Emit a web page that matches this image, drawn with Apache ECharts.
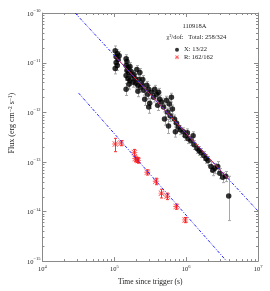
<!DOCTYPE html>
<html><head><meta charset="utf-8">
<script src="https://cdn.jsdelivr.net/npm/echarts@6/dist/echarts.min.js"></script>
<style>html,body{margin:0;padding:0;background:#fff}#c{width:270px;height:291px}</style>
</head><body><div id="c"></div>
<script>
// ---- X-ray (X) data: time (s), flux (erg cm^-2 s^-1), fractional errors ----
const xTime = [1.03e5,1.10e5,1.06e5,1.13e5,1.06e5,1.10e5,1.03e5,1.17e5,
1.46e5,1.50e5,1.46e5,1.55e5,1.50e5,1.60e5,1.46e5,1.55e5,1.65e5,1.71e5,1.76e5,1.65e5,1.82e5,1.60e5,1.46e5,1.88e5,1.94e5,2.00e5,2.06e5,2.13e5,2.20e5,2.27e5,2.34e5,2.13e5,2.42e5,2.49e5,2.58e5,2.65e5,
2.83e5,3.01e5,2.92e5,3.11e5,3.01e5,3.31e5,3.53e5,3.65e5,3.88e5,4.14e5,4.27e5,4.01e5,4.55e5,4.84e5,5.00e5,5.32e5,5.50e5,5.68e5,5.85e5,6.24e5,6.44e5,6.04e5,
6.85e5,7.31e5,7.78e5,7.08e5,8.30e5,9.12e5,9.72e5,1.04e6,1.07e6,1.17e6,1.25e6,1.29e6,1.42e6,1.51e6,1.61e6,
1.77e6,1.89e6,2.01e6,2.21e6,2.35e6,2.51e6,2.75e6,2.94e6,3.23e6,3.55e6,3.91e6];
const xFlux = [1.73e-11,1.51e-11,1.32e-11,1.15e-11,1.00e-11,8.71e-12,7.59e-12,1.38e-11,
1.20e-11,1.05e-11,8.71e-12,7.94e-12,6.93e-12,6.32e-12,5.51e-12,4.80e-12,8.32e-12,6.62e-12,5.51e-12,4.38e-12,4.00e-12,3.65e-12,2.90e-12,5.77e-12,4.80e-12,3.82e-12,7.26e-12,3.48e-12,4.58e-12,6.32e-12,3.18e-12,2.64e-12,3.65e-12,4.58e-12,2.77e-12,1.83e-12,
3.48e-12,2.90e-12,2.31e-12,1.52e-12,1.27e-12,2.52e-12,2.01e-12,2.90e-12,2.31e-12,2.52e-12,1.83e-12,1.39e-12,1.60e-12,1.27e-12,7.33e-13,1.75e-12,1.01e-12,5.31e-13,1.46e-12,2.01e-12,1.16e-12,8.39e-13,
7.33e-13,6.10e-13,5.07e-13,4.04e-13,4.42e-13,4.04e-13,3.36e-13,3.85e-13,2.92e-13,2.67e-13,3.36e-13,2.22e-13,1.85e-13,1.69e-13,1.54e-13,
1.34e-13,1.17e-13,1.07e-13,8.09e-14,6.75e-14,7.40e-14,8.09e-14,5.87e-14,4.89e-14,5.12e-14,2.05e-14];
const xErrUp = [0.25,0.2,0.2,0.2,0.2,0.2,0.25,0.2,
0.2,0.2,0.2,0.2,0.2,0.2,0.2,0.2,0.2,0.2,0.2,0.2,0.2,0.2,0.3,0.2,0.2,0.2,0.2,0.2,0.2,0.2,0.2,0.25,0.2,0.2,0.2,0.3,
0.2,0.2,0.2,0.25,0.3,0.2,0.2,0.2,0.2,0.2,0.2,0.25,0.2,0.2,0.3,0.2,0.2,0.35,0.2,0.2,0.2,0.25,
0.2,0.2,0.2,0.25,0.2,0.2,0.2,0.2,0.2,0.2,0.2,0.2,0.2,0.2,0.2,
0.2,0.2,0.2,0.25,0.25,0.25,0.25,0.25,0.25,0.25,1.5];
const xErrDn = [0.22,0.2,0.2,0.2,0.2,0.2,0.22,0.2,
0.2,0.2,0.2,0.2,0.2,0.2,0.2,0.2,0.2,0.2,0.2,0.2,0.2,0.2,0.25,0.2,0.2,0.2,0.2,0.2,0.2,0.2,0.2,0.22,0.2,0.2,0.2,0.25,
0.2,0.2,0.2,0.22,0.25,0.2,0.2,0.2,0.2,0.2,0.2,0.22,0.2,0.2,0.25,0.2,0.2,0.3,0.2,0.2,0.2,0.22,
0.2,0.2,0.2,0.22,0.2,0.2,0.2,0.2,0.2,0.2,0.2,0.2,0.2,0.2,0.2,
0.2,0.2,0.2,0.22,0.22,0.22,0.22,0.22,0.22,0.22,0.68];

// ---- Optical R data ----
const rTime = [1.03e5,1.24e5,1.90e5,1.96e5,2.07e5,2.14e5,2.88e5,3.78e5,4.53e5,5.42e5,7.28e5,9.68e5];
const rFlux = [2.29e-13,2.40e-13,1.55e-13,1.17e-13,1.10e-13,1.07e-13,6.17e-14,4.07e-14,2.34e-14,2.04e-14,1.26e-14,6.76e-15];
const rErr = [0.3,0.12,0.15,0.12,0.12,0.12,0.12,0.15,0.2,0.15,0.12,0.12];

// ---- Fitted power laws (endpoints) ----
const fitXTime = [2.85e4, 1.0e7];
const fitXFlux = [1.0e-10, 1.02e-14];
const fitXDataTime = [1.03e5, 3.91e6];
const fitXDataFlux = [1.33e-11, 4.46e-14];
const fitRTime = [3.19e4, 3.65e6];
const fitRFlux = [2.43e-12, 1.0e-15];

// ---- Ticks ----
const xTickValues = [1e4, 1e5, 1e6, 1e7];
const xTickExps = ['4', '5', '6', '7'];
const yTickValues = [1e-15, 1e-14, 1e-13, 1e-12, 1e-11, 1e-10];
const yTickExps = ['\u221215', '\u221214', '\u221213', '\u221212', '\u221211', '\u221210'];
const xMinorTicks = [2e4,3e4,4e4,5e4,6e4,7e4,8e4,9e4,2e5,3e5,4e5,5e5,6e5,7e5,8e5,9e5,2e6,3e6,4e6,5e6,6e6,7e6,8e6,9e6];
const yMinorTicks = [2e-15,3e-15,4e-15,5e-15,6e-15,7e-15,8e-15,9e-15,
2e-14,3e-14,4e-14,5e-14,6e-14,7e-14,8e-14,9e-14,
2e-13,3e-13,4e-13,5e-13,6e-13,7e-13,8e-13,9e-13,
2e-12,3e-12,4e-12,5e-12,6e-12,7e-12,8e-12,9e-12,
2e-11,3e-11,4e-11,5e-11,6e-11,7e-11,8e-11,9e-11];

// ---- Texts ----
const grbName = '110918A';
const chiLabel = '\u03c7\u00b2/dof:';
const totalLabel = 'Total: 258/324';
const legendNames = ['X', 'R'];
const legendTexts = ['X: 13/22', 'R: 162/162'];
const xTitle = 'Time since trigger (s)';
const yTitle = 'Flux (erg cm{s|\u22122} s{s|\u22121})';

const serif = "'Liberation Serif','DejaVu Serif',serif";
const axisColor = '#8a8a8a';
const textColor = '#222';
const X_MIN = 1e4, X_MAX = 1e7, Y_MIN = 1e-15, Y_MAX = 1e-10;
const starPath = 'path://M4.3 0L5.7 0L5.7 10L4.3 10Z M0 4.3L10 4.3L10 5.7L0 5.7Z M1 0L10 9L9 10L0 1Z M9 0L10 1L1 10L0 9Z';

const supRich = {
  b: {fontFamily: serif, fontSize: 6.5, color: textColor, lineHeight: 9, verticalAlign: 'bottom'},
  s: {fontFamily: serif, fontSize: 4.5, color: textColor, lineHeight: 5, verticalAlign: 'top'}
};
function fmt(values, exps) {
  return function (v) {
    const i = values.findIndex(t => Math.abs(Math.log10(t) - Math.log10(v)) < 1e-6);
    return i < 0 ? '' : '{b|10}{s|' + exps[i] + '}';
  };
}

function errSeries(times, flux, up, dn, color, cap, z) {
  return {
    type: 'custom', silent: true, z: z, animation: false,
    data: times.map((t, i) => [t, flux[i] * (1 - dn[i]), flux[i] * (1 + up[i])]),
    encode: {x: 0, y: [1, 2]},
    renderItem: function (p, api) {
      const t = api.value(0);
      const a = api.coord([t, api.value(1)]);
      const b = api.coord([t, api.value(2)]);
      const x = Math.round(a[0]) + 0.5;
      const st = {stroke: color, lineWidth: 1};
      return {type: 'group', children: [
        {type: 'line', shape: {x1: x, y1: a[1], x2: x, y2: b[1]}, style: st},
        {type: 'line', shape: {x1: x - cap, y1: a[1], x2: x + cap, y2: a[1]}, style: st},
        {type: 'line', shape: {x1: x - cap, y1: b[1], x2: x + cap, y2: b[1]}, style: st}
      ]};
    }
  };
}

function tickSeries(vals, dir, len) {
  return {
    type: 'custom', silent: true, clip: false, z: 6, animation: false,
    data: vals.map(v => dir === 'x' ? [v, Y_MIN] : [X_MIN, v]),
    renderItem: function (p, api) {
      const st = {stroke: axisColor, lineWidth: 1};
      if (dir === 'x') {
        const v = api.value(0);
        const a = api.coord([v, Y_MIN]), b = api.coord([v, Y_MAX]);
        const x = Math.round(a[0]) + 0.5;
        return {type: 'group', children: [
          {type: 'line', shape: {x1: x, y1: a[1], x2: x, y2: a[1] - len}, style: st},
          {type: 'line', shape: {x1: x, y1: b[1], x2: x, y2: b[1] + len}, style: st}
        ]};
      } else {
        const v = api.value(1);
        const a = api.coord([X_MIN, v]), b = api.coord([X_MAX, v]);
        const y = Math.round(a[1]) + 0.5;
        return {type: 'group', children: [
          {type: 'line', shape: {x1: a[0], y1: y, x2: a[0] + len, y2: y}, style: st},
          {type: 'line', shape: {x1: b[0], y1: y, x2: b[0] - len, y2: y}, style: st}
        ]};
      }
    }
  };
}

const chart = echarts.init(document.getElementById('c'), null, {renderer: 'canvas'});
const baseAxis = {
  type: 'log', logBase: 10,
  axisLine: {show: true, lineStyle: {color: axisColor, width: 1}},
  axisTick: {show: false},
  splitLine: {show: false},
  minorTick: {show: false},
  minorSplitLine: {show: false}
};
chart.setOption({
  animation: false,
  backgroundColor: '#fff',
  grid: {left: 39, right: 12, top: 13, bottom: 27, containLabel: false},
  xAxis: [
    Object.assign({}, baseAxis, {
      position: 'bottom', min: X_MIN, max: X_MAX,
      axisLabel: {show: true, margin: 3, formatter: fmt(xTickValues, xTickExps), rich: supRich},
      name: xTitle, nameLocation: 'middle', nameGap: 11,
      nameTextStyle: {fontFamily: serif, fontSize: 7.5, color: textColor}
    }),
    Object.assign({}, baseAxis, {position: 'top', min: X_MIN, max: X_MAX, axisLabel: {show: false}})
  ],
  yAxis: [
    Object.assign({}, baseAxis, {
      position: 'left', min: Y_MIN, max: Y_MAX,
      axisLabel: {show: true, margin: 2, formatter: fmt(yTickValues, yTickExps), rich: supRich},
      name: yTitle, nameLocation: 'middle', nameGap: 22, nameRotate: 90,
      nameTextStyle: {fontFamily: serif, fontSize: 8, color: textColor, padding: [0, 0, 0, 28],
        rich: {s: {fontFamily: serif, fontSize: 5.5, color: textColor, verticalAlign: 'top', lineHeight: 5}}}
    }),
    Object.assign({}, baseAxis, {position: 'right', min: Y_MIN, max: Y_MAX, axisLabel: {show: false}})
  ],
  legend: {
    show: true, orient: 'vertical', left: 175, top: 46, padding: 0,
    itemWidth: 4, itemHeight: 4, itemGap: 0, selectedMode: false,
    data: [{name: legendNames[0], icon: 'circle'}, {name: legendNames[1], icon: starPath}],
    formatter: function (n) { return legendTexts[legendNames.indexOf(n)]; },
    textStyle: {fontFamily: serif, fontSize: 6.5, color: textColor, lineHeight: 7.5}
  },
  graphic: [
    {type: 'text', x: 194.5, y: 26, style: {text: grbName, fontFamily: serif, fontSize: 6.5, fill: textColor, align: 'center', verticalAlign: 'middle'}},
    {type: 'text', x: 166.5, y: 37.7, style: {text: chiLabel, fontFamily: serif, fontSize: 6.5, fill: textColor, align: 'left', verticalAlign: 'middle'}},
    {type: 'text', x: 188.3, y: 37.7, style: {text: totalLabel, fontFamily: serif, fontSize: 6.5, fill: textColor, align: 'left', verticalAlign: 'middle'}}
  ],
  series: [
    tickSeries(xMinorTicks, 'x', 2),
    tickSeries(xTickValues, 'x', 4),
    tickSeries(yMinorTicks, 'y', 2),
    tickSeries(yTickValues, 'y', 4),
    errSeries(xTime, xFlux, xErrUp, xErrDn, '#a8a8a8', 1.5, 2),
    errSeries(rTime, rFlux, rErr, rErr, '#ff3030', 1.5, 2),
    {
      name: 'X', type: 'scatter', z: 3, symbol: 'circle', symbolSize: 5.5,
      itemStyle: {color: '#000'},
      data: xTime.map((t, i) => [t, xFlux[i]])
    },
    {
      name: 'R', type: 'scatter', z: 3, symbol: starPath, symbolSize: 6,
      itemStyle: {color: 'rgba(255,20,20,0.85)'},
      data: rTime.map((t, i) => [t, rFlux[i]])
    },
    {
      type: 'line', z: 4, silent: true, showSymbol: false, symbol: 'none',
      lineStyle: {color: '#ff2a2a', width: 1},
      data: fitXDataTime.map((t, i) => [t, fitXDataFlux[i]])
    },
    {
      type: 'line', z: 5, silent: true, showSymbol: false, symbol: 'none',
      lineStyle: {color: '#2a2aff', width: 1, type: [3, 1.5, 1, 1.5]},
      data: fitXTime.map((t, i) => [t, fitXFlux[i]])
    },
    {
      type: 'line', z: 5, silent: true, showSymbol: false, symbol: 'none',
      lineStyle: {color: '#2a2aff', width: 1, type: [3, 1.5, 1, 1.5]},
      data: fitRTime.map((t, i) => [t, fitRFlux[i]])
    }
  ]
});
</script>
</body></html>
